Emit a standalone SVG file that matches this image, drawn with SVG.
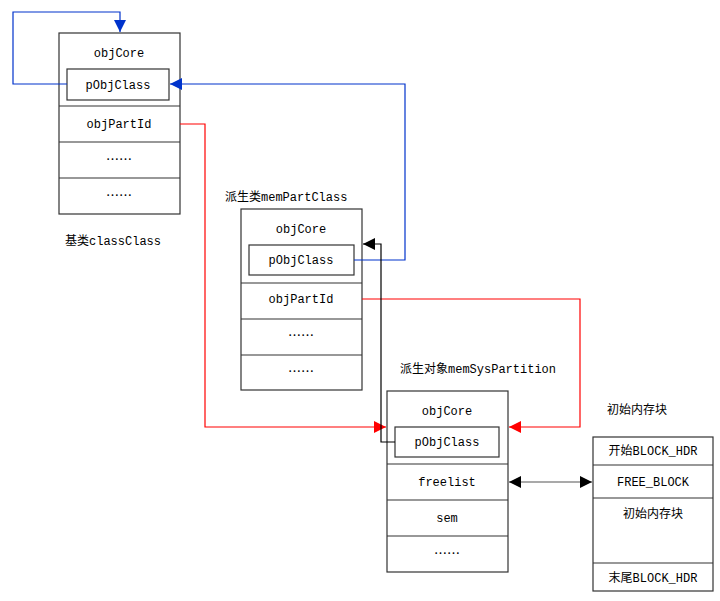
<svg xmlns="http://www.w3.org/2000/svg" width="720" height="601" viewBox="0 0 720 601">
<defs>
<style>
text{font-family:"Liberation Mono","Noto Sans CJK SC",monospace;font-size:12px;fill:#000;text-anchor:middle}
.lbl{text-anchor:start}
.el{font-family:"Noto Sans CJK SC","Liberation Mono",sans-serif;font-size:13px}
.box{fill:#fff;stroke:#333;stroke-width:1.2}
.ln{fill:none;stroke-width:1.2}
</style>
<marker id="ab" viewBox="0 0 10 10" refX="10" refY="5" markerWidth="12" markerHeight="12" markerUnits="userSpaceOnUse" orient="auto"><path d="M0,0L10,5L0,10z" fill="#0033cc"/></marker>
<marker id="ar" viewBox="0 0 10 10" refX="10" refY="5" markerWidth="12" markerHeight="12" markerUnits="userSpaceOnUse" orient="auto"><path d="M0,0L10,5L0,10z" fill="#ff0000"/></marker>
<marker id="ak" viewBox="0 0 10 10" refX="10" refY="5" markerWidth="12" markerHeight="12" markerUnits="userSpaceOnUse" orient="auto"><path d="M0,0L10,5L0,10z" fill="#000"/></marker>
<marker id="aks" viewBox="0 0 10 10" refX="0" refY="5" markerWidth="12" markerHeight="12" markerUnits="userSpaceOnUse" orient="auto"><path d="M10,0L0,5L10,10z" fill="#000"/></marker>
</defs>
<rect width="720" height="601" fill="#fff"/>

<g id="classClass">
<rect class="box" x="59" y="33" width="121" height="181"/>
<line class="ln" stroke="#333" x1="59" y1="106" x2="180" y2="106"/>
<line class="ln" stroke="#333" x1="59" y1="142" x2="180" y2="142"/>
<line class="ln" stroke="#333" x1="59" y1="178" x2="180" y2="178"/>
<text x="119" y="57">objCore</text>
<rect class="box" x="67" y="69" width="102" height="31"/>
<text x="118" y="89">pObjClass</text>
<text x="119" y="128">objPartId</text>
<text class="el" x="119" y="164">……</text>
<text class="el" x="119" y="200">……</text>
<text class="lbl" x="65" y="245">基类classClass</text>
</g>

<g id="memPartClass">
<rect class="box" x="241" y="209" width="121" height="181"/>
<line class="ln" stroke="#333" x1="241" y1="283" x2="362" y2="283"/>
<line class="ln" stroke="#333" x1="241" y1="319" x2="362" y2="319"/>
<line class="ln" stroke="#333" x1="241" y1="355" x2="362" y2="355"/>
<text x="301" y="233">objCore</text>
<rect class="box" x="249" y="245" width="105" height="30"/>
<text x="301" y="264">pObjClass</text>
<text x="301" y="303">objPartId</text>
<text class="el" x="301" y="340">……</text>
<text class="el" x="301" y="376">……</text>
<text class="lbl" x="225" y="201">派生类memPartClass</text>
</g>

<g id="memSysPartition">
<rect class="box" x="387" y="391" width="121" height="181"/>
<line class="ln" stroke="#333" x1="387" y1="464" x2="508" y2="464"/>
<line class="ln" stroke="#333" x1="387" y1="500" x2="508" y2="500"/>
<line class="ln" stroke="#333" x1="387" y1="536" x2="508" y2="536"/>
<text x="447" y="415">objCore</text>
<rect class="box" x="395" y="427" width="104" height="30"/>
<text x="447" y="446">pObjClass</text>
<text x="447" y="486">freelist</text>
<text x="447" y="522">sem</text>
<text class="el" x="447" y="558">……</text>
<text class="lbl" x="400" y="373">派生对象memSysPartition</text>
</g>

<g id="memBlock">
<rect class="box" x="593" y="437" width="120" height="154"/>
<line class="ln" stroke="#333" x1="593" y1="465" x2="713" y2="465"/>
<line class="ln" stroke="#333" x1="593" y1="498" x2="713" y2="498"/>
<line class="ln" stroke="#333" x1="593" y1="563" x2="713" y2="563"/>
<text x="653" y="455">开始BLOCK_HDR</text>
<text x="653" y="486">FREE_BLOCK</text>
<text x="653" y="518">初始内存块</text>
<text x="653" y="582">末尾BLOCK_HDR</text>
<text class="lbl" x="607" y="414">初始内存块</text>
</g>

<g id="connectors">
<path class="ln" stroke="#0033cc" d="M67,84H13V12H120V32" marker-end="url(#ab)"/>
<path class="ln" stroke="#0033cc" d="M354,260H405V84H170" marker-end="url(#ab)"/>
<path class="ln" stroke="#ff0000" d="M180,124H205V427H386" marker-end="url(#ar)"/>
<path class="ln" stroke="#ff0000" d="M362,299H580V427H509" marker-end="url(#ar)"/>
<path class="ln" stroke="#000" d="M395,442H381V244H363" marker-end="url(#ak)"/>
<path class="ln" stroke="#555" d="M509,482H592" marker-start="url(#aks)" marker-end="url(#ak)"/>
</g>
</svg>
